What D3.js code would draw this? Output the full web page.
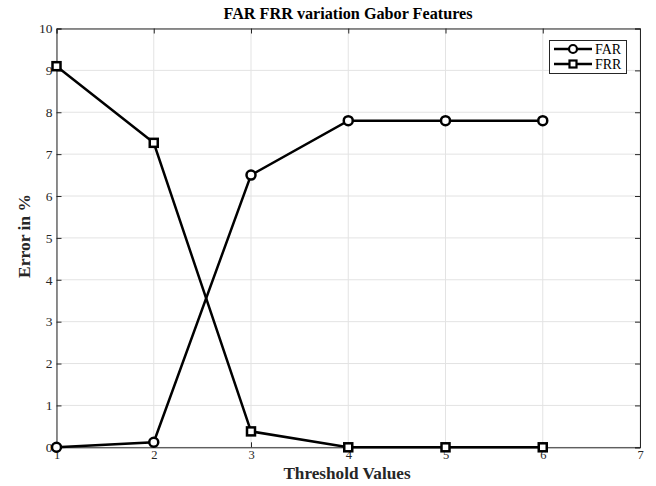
<!DOCTYPE html>
<html><head><meta charset="utf-8">
<script src="https://cdn.jsdelivr.net/npm/d3@7"></script>
<style>body{margin:0;background:#fff}svg{display:block}</style>
</head><body>
<svg id="c" width="656" height="486"></svg>
<script>
const thresholds = [1, 2, 3, 4, 5, 6];
const farValues = [0, 0.12, 6.5, 7.8, 7.8, 7.8];
const frrValues = [9.1, 7.27, 0.38, 0, 0, 0];
const xTicks = [1, 2, 3, 4, 5, 6, 7];
const yTicks = [0, 1, 2, 3, 4, 5, 6, 7, 8, 9, 10];
const seriesNames = ["FAR", "FRR"];

const svg = d3.select("#c");
const L = 56.5, R = 640, T = 28.5, B = 447.3;
const x = d3.scaleLinear().domain([1, 7]).range([L, R]);
const y = d3.scaleLinear().domain([0, 10]).range([B, T]);
const font = "'Liberation Serif', 'Times New Roman', serif";

// grid
const g = svg.append("g");
g.selectAll(".gx").data(xTicks).enter().append("line")
  .attr("x1", d => x(d)).attr("x2", d => x(d)).attr("y1", T).attr("y2", B)
  .attr("stroke", "#e3e3e3").attr("stroke-width", 1);
g.selectAll(".gy").data(yTicks).enter().append("line")
  .attr("y1", d => y(d)).attr("y2", d => y(d)).attr("x1", L).attr("x2", R)
  .attr("stroke", "#e3e3e3").attr("stroke-width", 1);

// axes
const axStyle = (sel, size) => {
  sel.attr("font-size", size).attr("font-family", font);
  sel.select(".domain").attr("stroke", "#262626");
  sel.selectAll(".tick line").attr("stroke", "#262626");
  sel.selectAll("text").attr("font-family", font).attr("font-size", size).attr("fill", "#262626");
};
svg.append("g").attr("transform", `translate(0,${B})`)
  .call(d3.axisBottom(x).tickValues(xTicks).tickSize(-5).tickPadding(3).tickFormat(d3.format("d")))
  .call(axStyle, 12.5);
svg.append("g").attr("transform", `translate(${L},0)`)
  .call(d3.axisLeft(y).tickValues(yTicks).tickSize(-5).tickPadding(4).tickFormat(d3.format("d")))
  .call(axStyle, 13.5);
svg.append("g").attr("transform", `translate(0,${T})`)
  .call(d3.axisTop(x).tickValues(xTicks).tickSize(-5).tickFormat(""))
  .call(axStyle, 13.5);
svg.append("g").attr("transform", `translate(${R},0)`)
  .call(d3.axisRight(y).tickValues(yTicks).tickSize(-5).tickFormat(""))
  .call(axStyle, 13.5);

// lines
const line = d3.line().x((d, i) => x(thresholds[i])).y(d => y(d));
svg.append("path").datum(farValues).attr("d", line)
  .attr("fill", "none").attr("stroke", "#000").attr("stroke-width", 2.5);
svg.append("path").datum(frrValues).attr("d", line)
  .attr("fill", "none").attr("stroke", "#000").attr("stroke-width", 2.5);

svg.selectAll(".farm").data(farValues).enter().append("circle")
  .attr("cx", (d, i) => x(thresholds[i])).attr("cy", d => y(d)).attr("r", 4.5)
  .attr("fill", "#fff").attr("stroke", "#000").attr("stroke-width", 2.5);
svg.selectAll(".frrm").data(frrValues).enter().append("rect")
  .attr("x", (d, i) => x(thresholds[i]) - 4).attr("y", d => y(d) - 4)
  .attr("width", 8).attr("height", 8)
  .attr("fill", "#fff").attr("stroke", "#000").attr("stroke-width", 2.5);

// title & labels
svg.append("text").attr("x", 348).attr("y", 19).attr("text-anchor", "middle")
  .attr("font-family", font).attr("font-weight", "bold").attr("font-size", 16.2).attr("fill", "#000")
  .text("FAR FRR variation Gabor Features");
svg.append("text").attr("x", 347).attr("y", 479).attr("text-anchor", "middle")
  .attr("font-family", font).attr("font-weight", "bold").attr("font-size", 17.2).attr("fill", "#262626")
  .text("Threshold Values");
svg.append("text").attr("transform", "translate(30,236) rotate(-90)").attr("text-anchor", "middle")
  .attr("font-family", font).attr("font-weight", "bold").attr("font-size", 17.5).attr("fill", "#262626")
  .text("Error in %");

// legend
const lg = svg.append("g");
lg.append("rect").attr("x", 549.5).attr("y", 40.5).attr("width", 77).attr("height", 33)
  .attr("fill", "#fff").attr("stroke", "#262626").attr("stroke-width", 1);
seriesNames.forEach((name, i) => {
  const yy = 49 + i * 15;
  lg.append("line").attr("x1", 554).attr("x2", 592).attr("y1", yy).attr("y2", yy)
    .attr("stroke", "#000").attr("stroke-width", 2.5);
  if (i === 0) {
    lg.append("circle").attr("cx", 573).attr("cy", yy).attr("r", 4)
      .attr("fill", "#fff").attr("stroke", "#000").attr("stroke-width", 2.2);
  } else {
    lg.append("rect").attr("x", 569.5).attr("y", yy - 3.5).attr("width", 7).attr("height", 7)
      .attr("fill", "#fff").attr("stroke", "#000").attr("stroke-width", 2.2);
  }
  lg.append("text").attr("x", 595).attr("y", yy + 5)
    .attr("font-family", font).attr("font-size", 14).attr("fill", "#000").text(name);
});
</script>
</body></html>
